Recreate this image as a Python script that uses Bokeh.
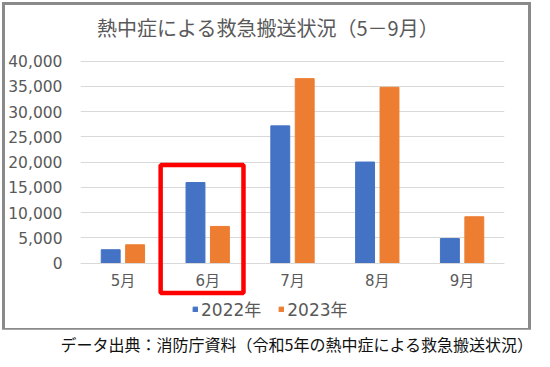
from bokeh.plotting import figure
from bokeh.models import (ColumnDataSource, FactorRange, Range1d, FixedTicker,
                          NumeralTickFormatter, Legend, LegendItem, BoxAnnotation, Label, Title)
from bokeh.transform import dodge
from bokeh.layouts import column
from bokeh.embed import file_html
from bokeh.resources import INLINE

# ---- data ----
months = ["5月", "6月", "7月", "8月", "9月"]
cases_2022 = [2668, 15969, 27195, 20029, 4878]
cases_2023 = [3647, 7282, 36549, 34835, 9193]
series_names = ["2022年", "2023年"]
y_ticks = [0, 5000, 10000, 15000, 20000, 25000, 30000, 35000, 40000]
highlight_month = "6月"
highlight_top = 19445
title_text = "熱中症による救急搬送状況（5－9月）"
source_text = "データ出典：消防庁資料（令和5年の熱中症による救急搬送状況）"

NUM_FONT = "DejaVu Sans, Noto Sans CJK JP"
CJK_FONT = "Noto Sans CJK JP"
GRAY = "#595959"

src = ColumnDataSource(dict(month=months, y2022=cases_2022, y2023=cases_2023))

# the frame covers the whole chart box so title, month labels, legend and
# highlight box all sit inside it; gridlines come only from the y ticks
p = figure(x_range=FactorRange(factors=months), y_range=Range1d(-11941, 51030),
           width=529, height=329, output_backend="svg", toolbar_location=None,
           min_border_left=72, min_border_right=30, min_border_top=0, min_border_bottom=11)
p.styles = {"border": "3px solid #8a8a8a"}
p.margin = (2, 0, 0, 2)

r1 = p.vbar(x=dodge("month", -0.144, range=p.x_range), top="y2022", width=0.223,
            source=src, color="#4472C4")
r2 = p.vbar(x=dodge("month", 0.144, range=p.x_range), top="y2023", width=0.223,
            source=src, color="#ED7D31")

hi = months.index(highlight_month) + 0.5
p.add_layout(BoxAnnotation(left=hi - 0.555, right=hi + 0.422, top=highlight_top, bottom=-5900,
                           fill_alpha=0, line_color="#FF0000", line_alpha=1.0,
                           line_width=4.5, level="overlay"))

# axes
p.xaxis.fixed_location = 0
p.xaxis.axis_line_color = "#D9D9D9"
p.xaxis.major_tick_line_color = None
p.xaxis.minor_tick_line_color = None
p.xaxis.major_label_text_font_size = "15px"
p.xaxis.major_label_text_font = NUM_FONT
p.xaxis.major_label_text_color = GRAY
p.xaxis.major_label_standoff = 3

p.yaxis.axis_line_color = None
p.yaxis.major_tick_line_color = None
p.yaxis.minor_tick_line_color = None
p.yaxis.ticker = FixedTicker(ticks=y_ticks)
p.yaxis.formatter = NumeralTickFormatter(format="0,0")
p.yaxis.major_label_text_font_size = "15.5px"
p.yaxis.major_label_text_font = NUM_FONT
p.yaxis.major_label_text_color = GRAY
p.yaxis.major_label_standoff = 12

p.xgrid.grid_line_color = None
p.ygrid.grid_line_color = "#D9D9D9"
p.outline_line_color = None

# title, centred on the chart box
p.add_layout(Label(x=2.213, y=46673, text=title_text, text_align="center",
                   text_baseline="middle", text_font=CJK_FONT, text_font_size="20px",
                   text_color=GRAY))

# legend (inside the frame, below the month labels)
legend = Legend(items=[LegendItem(label=series_names[0], renderers=[r1]),
                       LegendItem(label=series_names[1], renderers=[r2])],
                orientation="horizontal", location=(112, 2),
                glyph_width=6, glyph_height=6, label_standoff=3, spacing=17,
                padding=0, margin=0, label_height=20,
                label_text_font_size="17px", label_text_font=NUM_FONT,
                label_text_color=GRAY, border_line_color=None,
                background_fill_alpha=0)
p.add_layout(legend)

# source note below the box
p_src = figure(width=542, height=28, output_backend="svg", toolbar_location=None,
               x_range=Range1d(0, 1), y_range=Range1d(0, 1),
               min_border_left=0, min_border_right=0, min_border_top=0, min_border_bottom=0)
p_src.margin = (-2, 0, 0, 0)
p_src.axis.visible = False
p_src.grid.grid_line_color = None
p_src.outline_line_color = None
p_src.title = Title(text=source_text, align="left", offset=-15, standoff=0,
                    text_font=CJK_FONT, text_font_size="16px", text_font_style="normal",
                    text_color="#111111")

layout = column(p, p_src, spacing=0)
open("out.html", "w").write(file_html(layout, INLINE))
